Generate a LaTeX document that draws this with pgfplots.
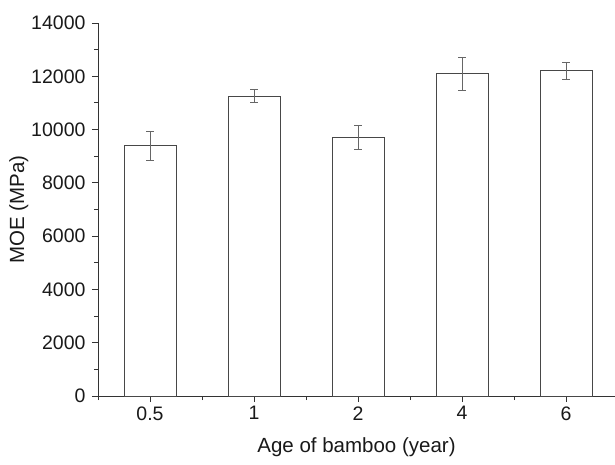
\documentclass[border=0pt]{standalone}
\usepackage{fontspec}
\setmainfont{Liberation Sans}
\usepackage{pgfplots}
\pgfplotsset{compat=1.18}
\begin{document}
\begin{tikzpicture}
\begin{axis}[
  scale only axis,
  width=517pt, height=373pt,
  xmin=-0.5, xmax=4.47,
  ymin=0, ymax=14000,
  axis x line*=bottom, axis y line*=left,
  axis line style={color=black!80, line width=0.9pt},
  xtick={0,1,2,3,4},
  xticklabels={0.5,1,2,4,6},
  minor xtick={-0.5,0.5,1.5,2.5,3.5},
  ytick={0,2000,...,14000},
  minor ytick={1000,3000,...,13000},
  tick align=outside,
  major tick length=6pt, minor tick length=4pt,
  tick style={color=black!80, line width=0.9pt},
  scaled y ticks=false,
  /pgf/number format/assume math mode=true,
  /pgf/number format/1000 sep={},
  ticklabel style={font=\fontsize{19.5}{22}\selectfont, color=black!90},
  yticklabel style={xshift=-3pt},
  xticklabel style={yshift=-1pt},
  label style={font=\fontsize{20.5}{24}\selectfont, color=black!90},
  xlabel={Age of bamboo (year)},
  ylabel={MOE (MPa)},
  xlabel style={yshift=-10pt},
  ylabel style={yshift=-4pt},
  clip=false,
]
\addplot[ybar, bar width=0.5, draw=black!72, fill=white, line width=1pt,
  error bars/.cd, y dir=both, y explicit,
  error bar style={color=black!60, line width=0.9pt},
  error mark options={rotate=90, mark size=3.8pt, color=black!60, line width=0.9pt}]
  coordinates {
  (0,9390) +- (0,545)
  (1,11260) +- (0,250)
  (2,9710) +- (0,440)
  (3,12100) +- (0,615)
  (4,12210) +- (0,310)
  };
\end{axis}
\pgfresetboundingbox
\path (current axis.south west) ++(-98pt,-68pt) rectangle ++(615pt,464pt);
\end{tikzpicture}
\end{document}
